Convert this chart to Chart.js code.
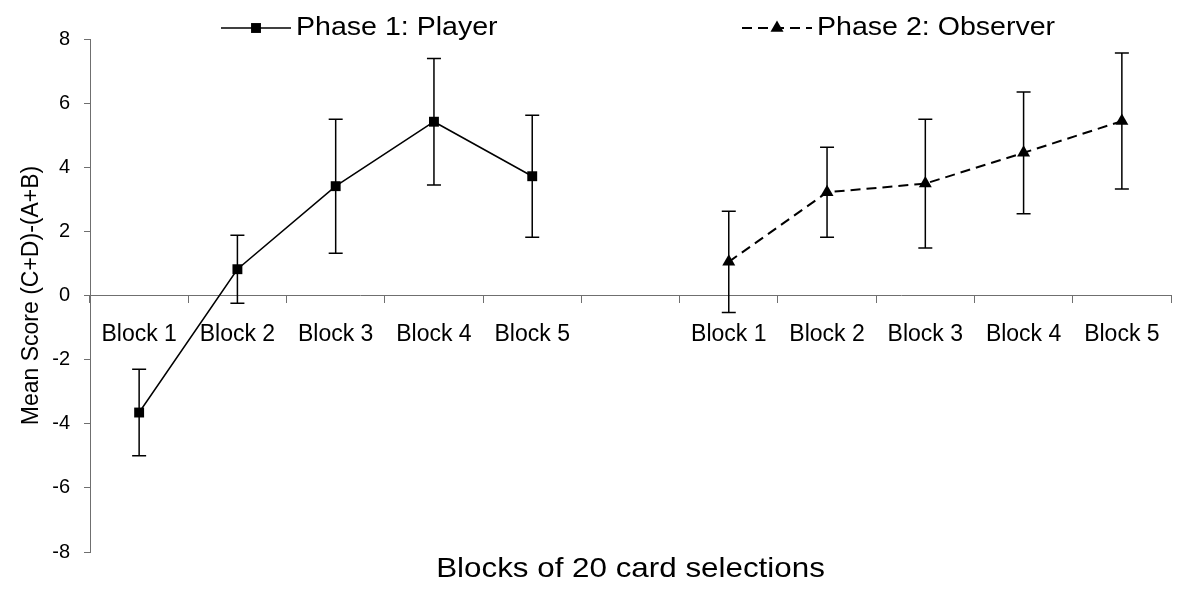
<!DOCTYPE html>
<html>
<head>
<meta charset="utf-8">
<script src="https://cdn.jsdelivr.net/npm/chart.js@4.4.1/dist/chart.umd.min.js"></script>
<style>
  html, body { margin: 0; padding: 0; background: #ffffff; }
  #wrap { width: 1179px; height: 606px; }
</style>
</head>
<body>
<div id="wrap"><canvas id="chart" width="1179" height="606"></canvas></div>
<script>
// Category slots: five blocks per phase, with one empty slot between the phases
const categories = ['Block 1', 'Block 2', 'Block 3', 'Block 4', 'Block 5', '',
                    'Block 1', 'Block 2', 'Block 3', 'Block 4', 'Block 5'];

const seriesNames = ['Phase 1: Player', 'Phase 2: Observer'];

// Mean score per block and the half-length of its error bar
const playerMeans    = [-3.65, 0.82, 3.41, 5.42, 3.72, null, null, null, null, null, null];
const playerErrors   = [ 1.35, 1.06, 2.09, 1.97, 1.90, null, null, null, null, null, null];
const observerMeans  = [null, null, null, null, null, null, 1.05, 3.22, 3.49, 4.45, 5.44];
const observerErrors = [null, null, null, null, null, null, 1.58, 1.40, 2.01, 1.90, 2.12];

const yTicks = [-8, -6, -4, -2, 0, 2, 4, 6, 8];

const xTitle = 'Blocks of 20 card selections';
const yTitle = 'Mean Score (C+D)-(A+B)';

const FONT = "'Liberation Sans', Arial, Helvetica, sans-serif";
const AXIS_COLOR = '#6f6f6f';

// Text drawn with a slight horizontal stretch factor
function stretchedText(ctx, text, x, y, sx, align) {
  ctx.save();
  ctx.translate(x, y);
  ctx.scale(sx, 1);
  ctx.textAlign = align;
  ctx.textBaseline = 'middle';
  ctx.fillText(text, 0, 0);
  ctx.restore();
}

// Vertical error bars with flat caps, drawn under the markers
const errorBars = {
  id: 'errorBars',
  beforeDatasetsDraw(chart, args, opts) {
    const { ctx, scales: { y } } = chart;
    ctx.save();
    ctx.strokeStyle = opts.color;
    ctx.lineWidth = opts.width;
    ctx.setLineDash([]);
    chart.data.datasets.forEach((ds, i) => {
      const meta = chart.getDatasetMeta(i);
      meta.data.forEach((pt, j) => {
        const m = ds.data[j], e = ds.errors[j];
        if (m == null || e == null) return;
        const top = y.getPixelForValue(m + e);
        const bot = y.getPixelForValue(m - e);
        const x = pt.x, c = opts.cap;
        ctx.beginPath();
        ctx.moveTo(x, top); ctx.lineTo(x, bot);
        ctx.moveTo(x - c, top); ctx.lineTo(x + c, top);
        ctx.moveTo(x - c, bot); ctx.lineTo(x + c, bot);
        ctx.stroke();
      });
    });
    ctx.restore();
  }
};

// Legend row (line sample with its marker, then the series name) and the x-axis title
const chartText = {
  id: 'chartText',
  afterDraw(chart, args, opts) {
    const { ctx, chartArea } = chart;
    ctx.save();
    chart.data.datasets.forEach((ds, i) => {
      const x0 = opts.legendStarts[i], y0 = opts.legendY, len = opts.sample;
      ctx.strokeStyle = ds.borderColor;
      ctx.lineWidth = ds.borderWidth;
      ctx.setLineDash(ds.borderDash || []);
      ctx.beginPath();
      ctx.moveTo(x0, y0); ctx.lineTo(x0 + len, y0);
      ctx.stroke();
      ctx.setLineDash([]);
      ctx.fillStyle = ds.backgroundColor;
      Chart.helpers.drawPoint(ctx, {
        pointStyle: ds.pointStyle, radius: ds.pointRadius, rotation: 0, borderWidth: 0
      }, x0 + len / 2, y0);
      ctx.fillStyle = '#000';
      ctx.font = opts.legendSize + 'px ' + FONT;
      stretchedText(ctx, ds.label, x0 + len + opts.gap, y0, opts.stretch, 'left');
    });
    ctx.fillStyle = '#000';
    ctx.font = opts.titleSize + 'px ' + FONT;
    stretchedText(ctx, xTitle, (chartArea.left + chartArea.right) / 2,
                  chartArea.bottom + opts.titleOffset, opts.stretch, 'center');
    ctx.restore();
  }
};

new Chart(document.getElementById('chart'), {
  type: 'line',
  data: {
    labels: categories,
    datasets: [
      {
        label: seriesNames[0],
        data: playerMeans,
        errors: playerErrors,
        borderColor: '#000',
        backgroundColor: '#000',
        borderWidth: 1.5,
        pointStyle: 'rect',
        pointRadius: 7,
        pointBorderWidth: 0,
        tension: 0
      },
      {
        label: seriesNames[1],
        data: observerMeans,
        errors: observerErrors,
        borderColor: '#000',
        backgroundColor: '#000',
        borderWidth: 2,
        borderDash: [10, 6],
        pointStyle: 'triangle',
        pointRadius: 7.5,
        pointBorderWidth: 0,
        tension: 0
      }
    ]
  },
  options: {
    responsive: false,
    animation: false,
    devicePixelRatio: 1,
    layout: { padding: { top: 39, right: 8, bottom: 54, left: 0 } },
    scales: {
      x: {
        type: 'category',
        offset: true,
        position: { y: 0 },
        grid: { offset: true, drawOnChartArea: false, drawTicks: true, tickLength: 7, color: AXIS_COLOR, lineWidth: 1 },
        border: { color: AXIS_COLOR, width: 1 },
        ticks: { color: '#000', font: { family: FONT, size: 23 }, padding: 18, autoSkip: false, maxRotation: 0, minRotation: 0 }
      },
      y: {
        type: 'linear',
        min: -8,
        max: 8,
        afterBuildTicks: s => { s.ticks = yTicks.map(v => ({ value: v })); },
        afterFit: s => { s.width = 90; },
        grid: { drawOnChartArea: false, drawTicks: true, tickLength: 6, color: AXIS_COLOR, lineWidth: 1 },
        border: { color: AXIS_COLOR, width: 1 },
        ticks: { color: '#000', font: { family: FONT, size: 20 }, padding: 14 },
        title: { display: true, text: yTitle, color: '#000', font: { family: FONT, size: 23 }, padding: { top: 18 } }
      }
    },
    plugins: {
      legend: { display: false },
      tooltip: { enabled: false },
      title: { display: false },
      errorBars: { color: '#000', width: 1.5, cap: 7 },
      chartText: {
        legendStarts: [221, 742], legendY: 28, sample: 70, gap: 5, legendSize: 25.5,
        titleSize: 28, titleOffset: 17, stretch: 1.12
      }
    }
  },
  plugins: [errorBars, chartText]
});
</script>
</body>
</html>
